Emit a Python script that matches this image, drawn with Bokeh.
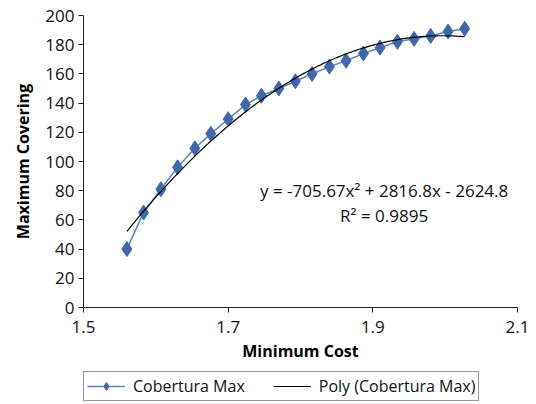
import numpy as np
from bokeh.plotting import figure
from bokeh.layouts import column
from bokeh.models import Range1d, FixedTicker, Legend, LegendItem, Label
from bokeh.embed import file_html
from bokeh.resources import INLINE

# ---- data ----
cost = [1.560, 1.583, 1.607, 1.630, 1.654, 1.676, 1.700, 1.724, 1.746, 1.770,
        1.793, 1.816, 1.840, 1.863, 1.887, 1.910, 1.934, 1.957, 1.980, 2.004, 2.027]
covering = [40, 65, 81, 96, 109, 119, 129, 139, 145, 150,
            155, 160, 165, 169, 174, 178, 182, 184, 186, 189, 191]
poly_coeffs = [-705.67, 2816.8, -2624.8]   # displayed trendline equation
x_ticks = [1.5, 1.7, 1.9, 2.1]
y_ticks = [0, 20, 40, 60, 80, 100, 120, 140, 160, 180, 200]
eq_text = "y = -705.67x\u00b2 + 2816.8x - 2624.8"
r2_text = "R\u00b2 = 0.9895"
series_labels = ["Cobertura Max", "Poly (Cobertura Max)"]

FONT = "Open Sans"
BLUE = "#4067A8"
LINE_BLUE = "#5B84C4"

# trendline from the displayed coefficients
xs = np.linspace(min(cost), max(cost), 200)
ys = np.polyval(poly_coeffs, xs)

p = figure(width=536, height=370, output_backend="svg", toolbar_location=None,
           x_range=Range1d(1.5, 2.1), y_range=Range1d(0, 200),
           min_border_left=83, min_border_right=19, min_border_top=15,
           min_border_bottom=63)
p.outline_line_color = None
p.grid.visible = False

p.xaxis.ticker = FixedTicker(ticks=x_ticks)
p.yaxis.ticker = FixedTicker(ticks=y_ticks)
for ax in (p.xaxis[0], p.yaxis[0]):
    ax.axis_line_color = "#222222"
    ax.major_tick_line_color = "#222222"
    ax.major_tick_in = 0
    ax.major_tick_out = 5
    ax.minor_tick_line_color = None
    ax.major_label_text_font = FONT
    ax.major_label_text_font_size = "17px"
    ax.major_label_text_color = "#111111"
    ax.axis_label_text_font = FONT
    ax.axis_label_text_font_size = "16px"
    ax.axis_label_text_font_style = "bold"
    ax.axis_label_text_color = "#000000"
p.xaxis.axis_label = "Minimum Cost"
p.yaxis.axis_label = "Maximum Covering"
p.xaxis.major_label_standoff = 8
p.xaxis.axis_label_standoff = 4
p.yaxis.major_label_standoff = 4
p.yaxis.axis_label_standoff = 8

p.line(cost, covering, line_color=LINE_BLUE, line_width=1.5)
p.scatter(cost, covering, marker="diamond", size=15, fill_color=BLUE, line_color=BLUE)
p.line(xs, ys, line_color="#000000", line_width=1.2)

p.add_layout(Label(x=1.9156, y=80, text=eq_text, text_align="center",
                   text_baseline="middle", text_font=FONT,
                   text_font_size="17px", text_color="#111111"))
p.add_layout(Label(x=1.9156, y=63, text=r2_text, text_align="center",
                   text_baseline="middle", text_font=FONT,
                   text_font_size="17px", text_color="#111111"))

# legend strip below the chart (same series, drawn out of view)
lg = figure(width=536, height=34, output_backend="svg", toolbar_location=None,
            x_range=Range1d(0, 1), y_range=Range1d(0, 1),
            x_axis_type=None, y_axis_type=None,
            min_border_left=0, min_border_right=0, min_border_top=0, min_border_bottom=0)
lg.outline_line_color = None
lg.grid.visible = False
l1 = lg.line(cost, covering, line_color=LINE_BLUE, line_width=1.5)
s1 = lg.scatter(cost, covering, marker="diamond", size=15, fill_color=BLUE, line_color=BLUE)
t1 = lg.line(xs, ys, line_color="#000000", line_width=1.2)

legend = Legend(items=[LegendItem(label=series_labels[0], renderers=[l1, s1]),
                       LegendItem(label=series_labels[1], renderers=[t1])],
                orientation="horizontal", location=(0, 3))
legend.label_text_font = FONT
legend.label_text_font_size = "16px"
legend.label_text_color = "#111111"
legend.border_line_color = "#333333"
legend.border_line_width = 1
legend.glyph_width = 38
legend.spacing = 28
legend.padding = 3
legend.margin = 0
legend.label_standoff = 8
lg.add_layout(legend)

layout = column(p, lg, spacing=0)
open("out.html", "w").write(file_html(layout, INLINE))
